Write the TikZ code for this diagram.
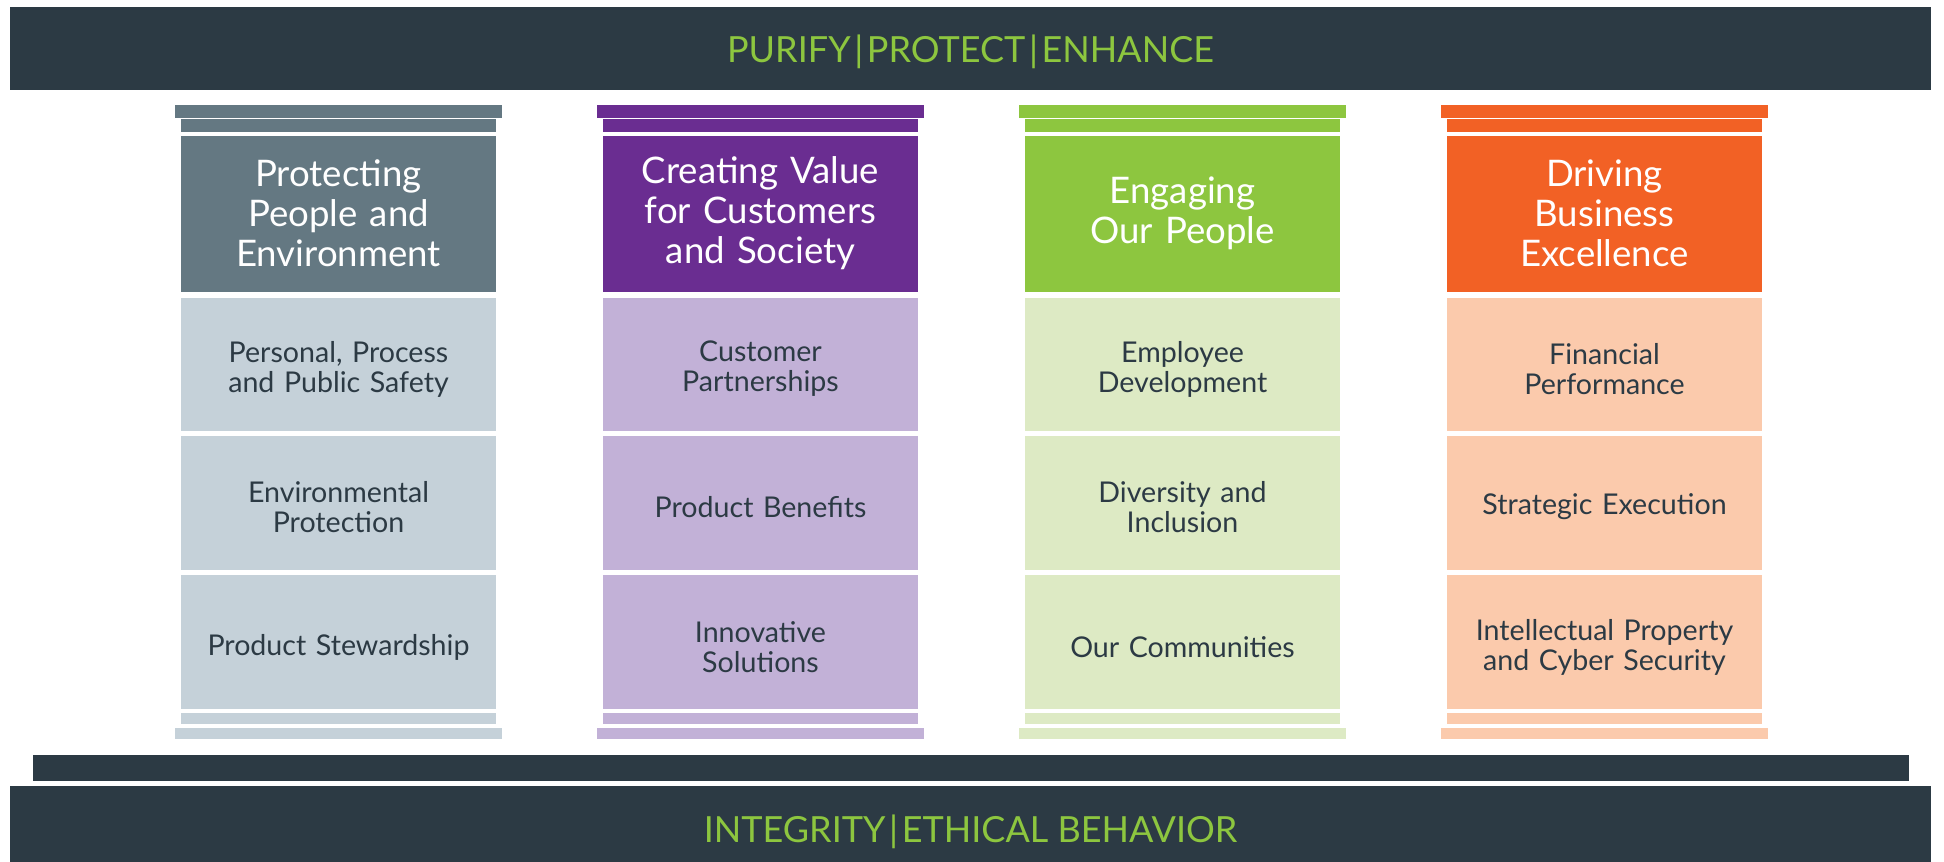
\documentclass[tikz,border=0pt]{standalone}
\usepackage{fontspec}
\setmainfont{Lato}
\definecolor{slatebar}{HTML}{2C3A44}
\definecolor{mottogreen}{HTML}{8DC63F}
\definecolor{peoplegray}{HTML}{647882}
\definecolor{peoplelight}{HTML}{C5D1D9}
\definecolor{valuepurple}{HTML}{6A2D91}
\definecolor{valuelight}{HTML}{C2B1D7}
\definecolor{engagegreen}{HTML}{8DC63F}
\definecolor{engagelight}{HTML}{DDEAC4}
\definecolor{driveorange}{HTML}{F26125}
\definecolor{drivelight}{HTML}{FBCAAC}
\newcommand{\mottosep}{\hspace{1.8pt}|\hspace{1.8pt}}
\begin{document}
\begin{tikzpicture}[x=0.5pt, y=-0.5pt,
  motto/.style = {text=mottogreen, font=\fontsize{18}{20}\selectfont},
  head/.style = {text=white, align=center, text width=155pt, font=\fontsize{18.3}{20}\selectfont},
  item/.style = {text=slatebar, align=center, text width=155pt, font=\fontsize{14.3}{15}\selectfont}]

\useasboundingbox (0,0) rectangle (1944,862);

% roof and floor
\fill[slatebar] (10,7) rectangle (1931,90);
\node[motto] (roof) at (970.5,52) {PURIFY\mottosep PROTECT\mottosep ENHANCE};
\fill[slatebar] (33,755) rectangle (1909,781);
\fill[slatebar] (10,786) rectangle (1931,862);
\node[motto] (floor) at (970.5,832) {INTEGRITY\mottosep ETHICAL BEHAVIOR};

% pillar 1
\fill[peoplegray] (175,105) rectangle (502,118);
\fill[peoplegray] (181,119) rectangle (496,132);
\fill[peoplegray] (181,136) rectangle (496,292);
\fill[peoplelight] (181,298) rectangle (496,431);
\fill[peoplelight] (181,436) rectangle (496,570);
\fill[peoplelight] (181,575) rectangle (496,709);
\fill[peoplelight] (181,713) rectangle (496,724);
\fill[peoplelight] (175,728) rectangle (502,739);
\node[head] (people) at (338.5,213) {Protecting\\People and\\Environment};
\node[item] (safety) at (338.5,369) {Personal, Process\\and Public Safety};
\node[item] (environment) at (338.5,507) {Environmental\\Protection};
\node[item] (stewardship) at (338.5,647) {Product Stewardship};

% pillar 2
\fill[valuepurple] (597,105) rectangle (924,118);
\fill[valuepurple] (603,119) rectangle (918,132);
\fill[valuepurple] (603,136) rectangle (918,292);
\fill[valuelight] (603,298) rectangle (918,431);
\fill[valuelight] (603,436) rectangle (918,570);
\fill[valuelight] (603,575) rectangle (918,709);
\fill[valuelight] (603,713) rectangle (918,724);
\fill[valuelight] (597,728) rectangle (924,739);
\node[head] (value) at (760.5,213) {Creating Value\\for Customers\\and Society};
\node[item] (partners) at (760.5,369) {Customer\\Partnerships};
\node[item] (benefits) at (760.5,507) {Product Benefits};
\node[item] (solutions) at (760.5,647) {Innovative\\Solutions};

% pillar 3
\fill[engagegreen] (1019,105) rectangle (1346,118);
\fill[engagegreen] (1025,119) rectangle (1340,132);
\fill[engagegreen] (1025,136) rectangle (1340,292);
\fill[engagelight] (1025,298) rectangle (1340,431);
\fill[engagelight] (1025,436) rectangle (1340,570);
\fill[engagelight] (1025,575) rectangle (1340,709);
\fill[engagelight] (1025,713) rectangle (1340,724);
\fill[engagelight] (1019,728) rectangle (1346,739);
\node[head] (engage) at (1182.5,213) {Engaging\\Our People};
\node[item] (development) at (1182.5,369) {Employee\\Development};
\node[item] (diversity) at (1182.5,507) {Diversity and\\Inclusion};
\node[item] (communities) at (1182.5,647) {Our Communities};

% pillar 4
\fill[driveorange] (1441,105) rectangle (1768,118);
\fill[driveorange] (1447,119) rectangle (1762,132);
\fill[driveorange] (1447,136) rectangle (1762,292);
\fill[drivelight] (1447,298) rectangle (1762,431);
\fill[drivelight] (1447,436) rectangle (1762,570);
\fill[drivelight] (1447,575) rectangle (1762,709);
\fill[drivelight] (1447,713) rectangle (1762,724);
\fill[drivelight] (1441,728) rectangle (1768,739);
\node[head] (excellence) at (1604.5,213) {Driving\\Business\\Excellence};
\node[item] (finance) at (1604.5,369) {Financial\\Performance};
\node[item] (execution) at (1604.5,507) {Strategic Execution};
\node[item] (security) at (1604.5,647) {Intellectual Property\\and Cyber Security};
\end{tikzpicture}
\end{document}
